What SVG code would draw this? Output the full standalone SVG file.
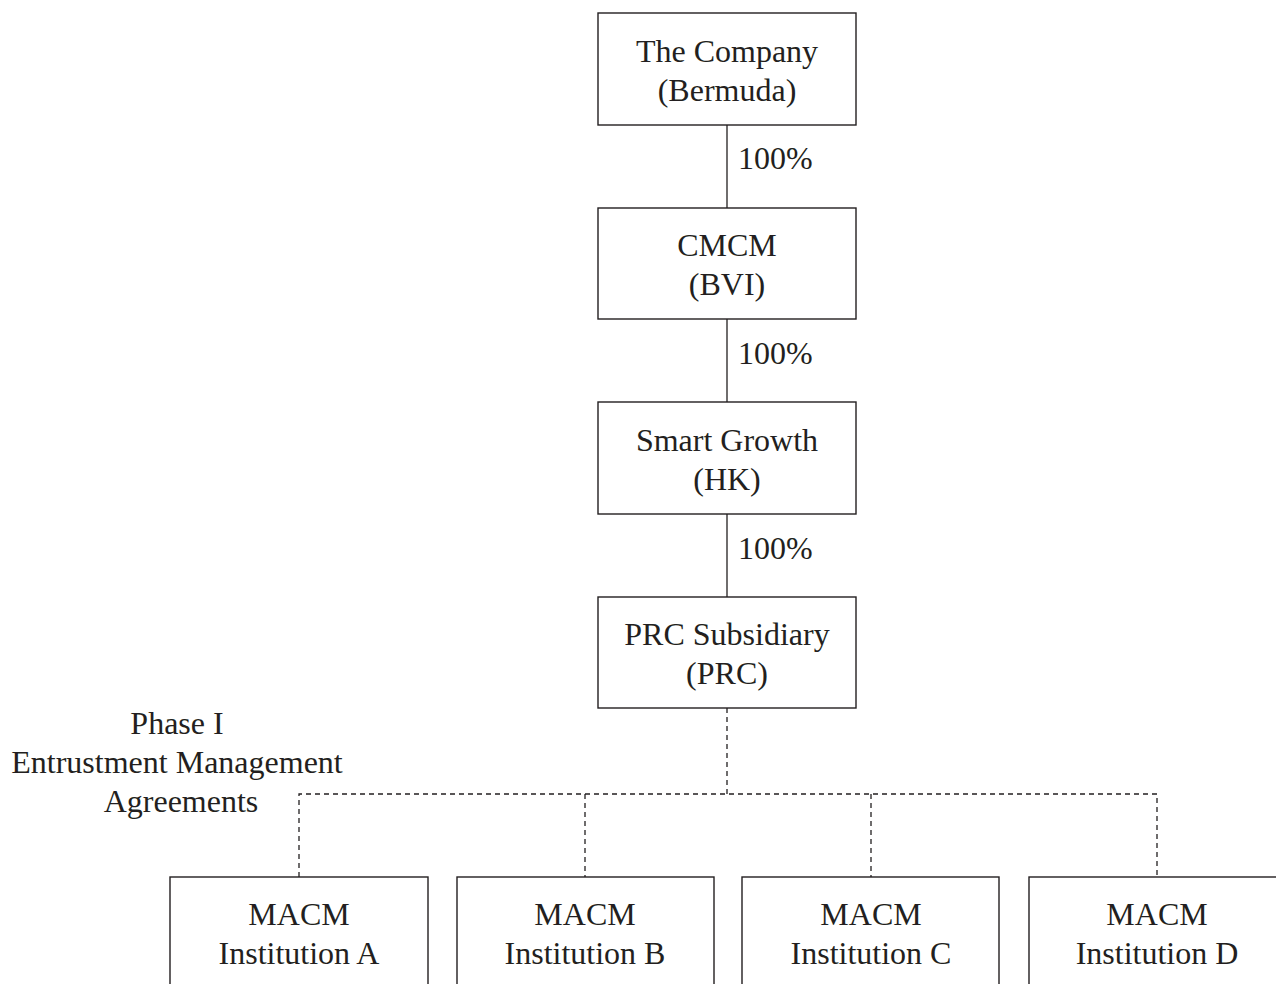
<svg xmlns="http://www.w3.org/2000/svg" width="1276" height="984" viewBox="0 0 1276 984">
<style>
.box{fill:#fff;stroke:#231f20;stroke-width:1.4}
.t{font-family:"Liberation Serif","Times New Roman",serif;font-size:32px;fill:#231f20;text-anchor:middle}
.p{font-family:"Liberation Serif","Times New Roman",serif;font-size:32px;fill:#231f20}
.solid{stroke:#231f20;stroke-width:1.3;fill:none}
.dash{stroke:#231f20;stroke-width:1.3;fill:none;stroke-dasharray:5,4}
</style>
<rect width="1276" height="984" fill="#fff"/>
<g id="connectors">
<line class="solid" x1="727" y1="125" x2="727" y2="208"/>
<line class="solid" x1="727" y1="319" x2="727" y2="402"/>
<line class="solid" x1="727" y1="514" x2="727" y2="597"/>
<line class="dash" x1="727" y1="708" x2="727" y2="794"/>
<polyline class="dash" points="299,877 299,794 1157,794 1157,877"/>
<line class="dash" x1="585" y1="794" x2="585" y2="877"/>
<line class="dash" x1="871" y1="794" x2="871" y2="877"/>
<text class="p" x="738" y="169">100%</text>
<text class="p" x="738" y="364">100%</text>
<text class="p" x="738" y="559">100%</text>
</g>
<g id="company"><rect class="box" x="598" y="13" width="258" height="112"/><text class="t" x="727" y="62">The Company</text><text class="t" x="727" y="101">(Bermuda)</text></g>
<g id="cmcm"><rect class="box" x="598" y="208" width="258" height="111"/><text class="t" x="727" y="256">CMCM</text><text class="t" x="727" y="295">(BVI)</text></g>
<g id="smart"><rect class="box" x="598" y="402" width="258" height="112"/><text class="t" x="727" y="451">Smart Growth</text><text class="t" x="727" y="490">(HK)</text></g>
<g id="prc"><rect class="box" x="598" y="597" width="258" height="111"/><text class="t" x="727" y="645">PRC Subsidiary</text><text class="t" x="727" y="684">(PRC)</text></g>
<g id="phase"><text class="t" x="177" y="734">Phase I</text><text class="t" x="177" y="773">Entrustment Management</text><text class="t" x="181" y="812">Agreements</text></g>
<g id="instA"><rect class="box" x="170" y="877" width="258" height="120"/><text class="t" x="299" y="925">MACM</text><text class="t" x="299" y="964">Institution A</text></g>
<g id="instB"><rect class="box" x="457" y="877" width="257" height="120"/><text class="t" x="585" y="925">MACM</text><text class="t" x="585" y="964">Institution B</text></g>
<g id="instC"><rect class="box" x="742" y="877" width="257" height="120"/><text class="t" x="871" y="925">MACM</text><text class="t" x="871" y="964">Institution C</text></g>
<g id="instD"><rect class="box" x="1029" y="877" width="258" height="120"/><text class="t" x="1157" y="925">MACM</text><text class="t" x="1157" y="964">Institution D</text></g>
</svg>
